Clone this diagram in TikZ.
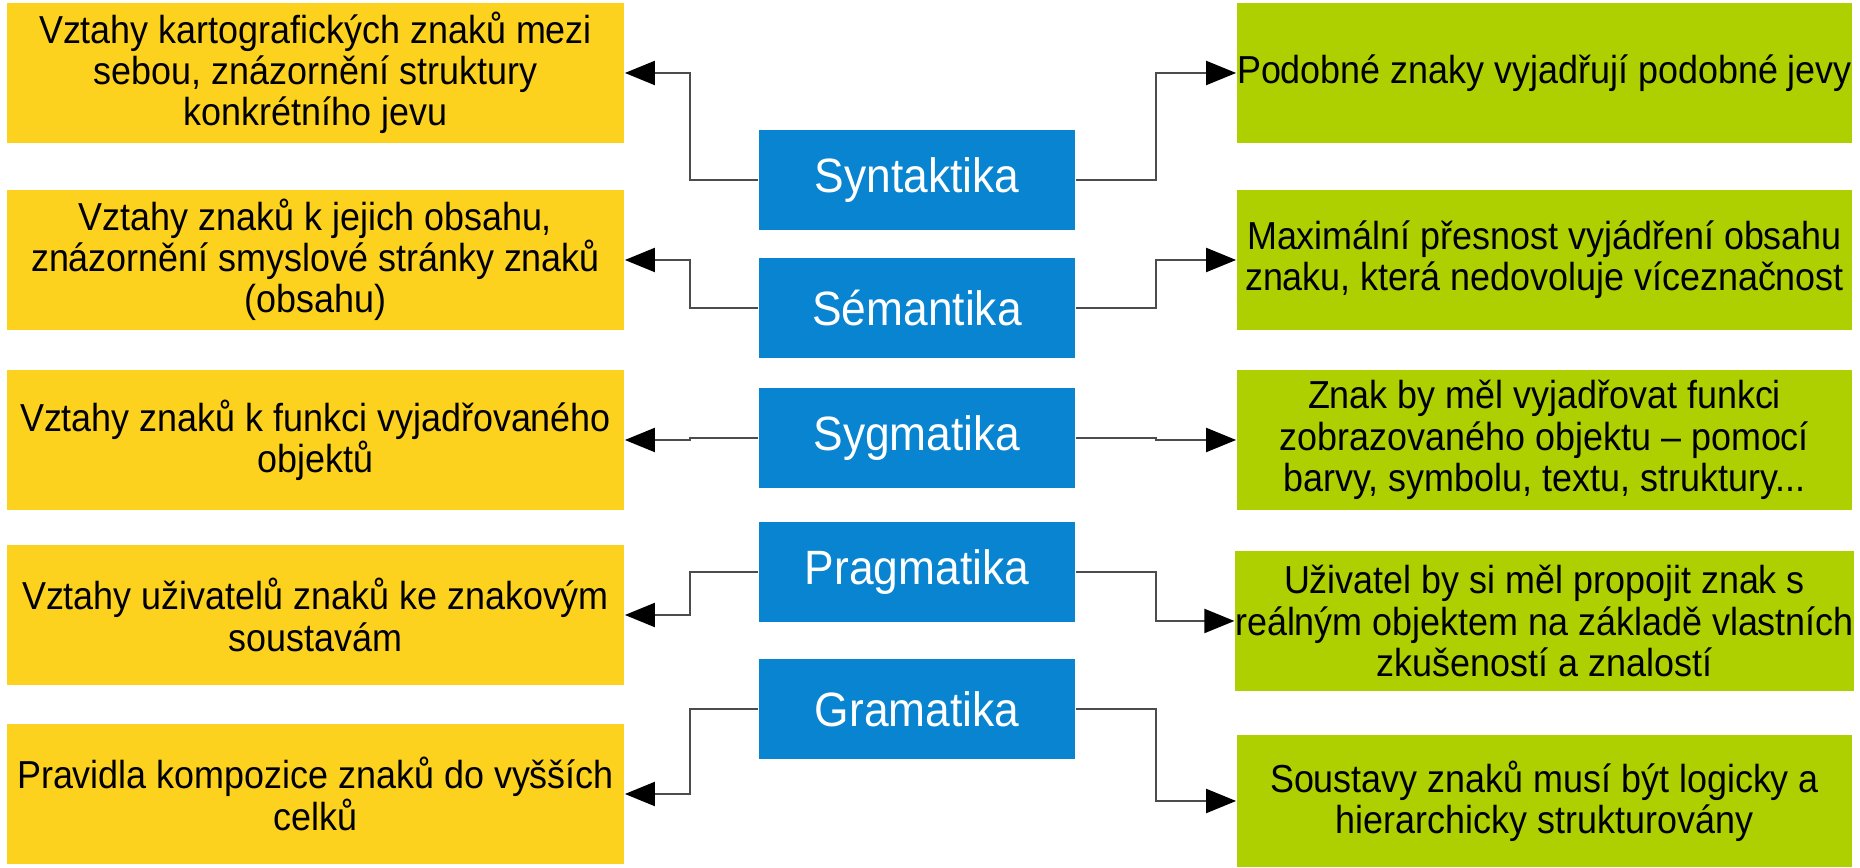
\documentclass[tikz,border=0pt]{standalone}
\usepackage{fontspec}
\setmainfont{Liberation Sans}[FakeStretch=0.92]
\usepackage{tikz}
\usetikzlibrary{arrows.meta}
\definecolor{zluta}{RGB}{253,210,30}
\definecolor{modra}{RGB}{8,132,208}
\definecolor{zelena}{RGB}{174,207,0}
\tikzstyle{box}=[inner sep=0pt, align=center, minimum height=1.4cm, font=\fontsize{11.1pt}{11.7pt}\selectfont]
\tikzstyle{lbox}=[box, fill=zluta, minimum width=6.17cm]
\tikzstyle{rbox}=[box, fill=zelena, minimum width=6.15cm]
\tikzstyle{cbox}=[box, fill=modra, text=white, minimum width=3.16cm, minimum height=1cm, font=\fontsize{13.7pt}{15pt}\selectfont]
\tikzstyle{link}=[draw=black!70, line width=0.6pt, -{Triangle[length=0.3cm, width=0.24cm, color=black]}]

\begin{document}
\begin{tikzpicture}[x=0.01cm, y=-0.01cm]
    \useasboundingbox (0, 0) rectangle (1860, 868);
    % stredni sloupec
    \node[cbox] (syn)  at (917, 180) {Syntaktika};
    \node[cbox] (sem)  at (917, 308) {Sémantika};
    \node[cbox] (syg)  at (917, 438) {Sygmatika};
    \node[cbox] (prag) at (917, 572) {Pragmatika};
    \node[cbox] (gram) at (917, 709) {Gramatika};
    % vztahy vlevo
    \node[lbox] (synL)  at (315.5, 73)  {Vztahy kartografických znaků mezi\\sebou, znázornění struktury\\konkrétního jevu};
    \node[lbox] (semL)  at (315.5, 260) {Vztahy znaků k jejich obsahu,\\znázornění smyslové stránky znaků\\(obsahu)};
    \node[lbox] (sygL)  at (315.5, 440) {Vztahy znaků k funkci vyjadřovaného\\objektů};
    \node[lbox] (pragL) at (315.5, 615) {Vztahy uživatelů znaků ke znakovým\\soustavám};
    \node[lbox] (gramL) at (315.5, 794) {Pravidla kompozice znaků do vyšších\\celků};
    % zasady vpravo
    \node[rbox] (synR)  at (1544.5, 73)  {Podobné znaky vyjadřují podobné jevy};
    \node[rbox] (semR)  at (1544.5, 260) {Maximální přesnost vyjádření obsahu\\znaku, která nedovoluje víceznačnost};
    \node[rbox] (sygR)  at (1544.5, 440) {Znak by měl vyjadřovat funkci\\zobrazovaného objektu – pomocí\\barvy, symbolu, textu, struktury...};
    \node[rbox] (pragR) at (1544.5, 621) {Uživatel by si měl propojit znak s\\reálným objektem na základě vlastních\\zkušeností a znalostí};
    \node[rbox, minimum height=1.32cm] (gramR) at (1544.5, 801) {Soustavy znaků musí být logicky a\\hierarchicky strukturovány};
    \foreach \n in {syn, sem, syg, prag, gram} {
        \draw[link] (\n.west) -- ++(-68, 0) |- (\n L.east);
        \draw[link] (\n.east) -- ++(80, 0) |- (\n R.west);
    }
\end{tikzpicture}
\end{document}
